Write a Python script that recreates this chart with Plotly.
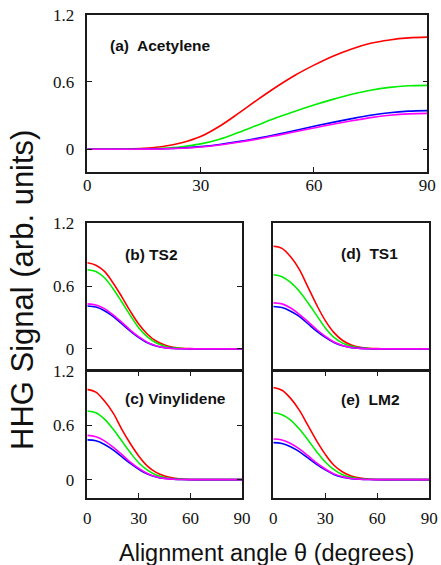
import plotly.graph_objects as go

W, H = 441, 565

# ---------------- data ----------------
theta = [0, 5, 10, 15, 20, 25, 30, 35, 40, 45, 50, 55, 60, 65, 70, 75, 80, 85, 90]

# (a) Acetylene
a_red     = [0, 0, 0.002, 0.008, 0.025, 0.058, 0.113, 0.205, 0.32, 0.44, 0.555, 0.66, 0.75, 0.83, 0.895, 0.945, 0.975, 0.993, 1.0]
a_green   = [0, 0, 0, 0.002, 0.008, 0.022, 0.048, 0.09, 0.15, 0.215, 0.28, 0.34, 0.395, 0.445, 0.49, 0.527, 0.552, 0.566, 0.57]
a_blue    = [0, 0, 0, 0.001, 0.004, 0.011, 0.024, 0.043, 0.068, 0.098, 0.132, 0.168, 0.205, 0.24, 0.273, 0.303, 0.326, 0.34, 0.345]
a_magenta = [0, 0, 0, 0.001, 0.003, 0.009, 0.02, 0.038, 0.062, 0.09, 0.122, 0.156, 0.19, 0.223, 0.254, 0.282, 0.303, 0.316, 0.32]

# (b) TS2
b_red     = [0.823, 0.80, 0.74, 0.63, 0.5, 0.36, 0.235, 0.14, 0.075, 0.037, 0.016, 0.006, 0.002, 0, 0, 0, 0, 0, 0]
b_green   = [0.756, 0.74, 0.68, 0.575, 0.45, 0.32, 0.2, 0.115, 0.058, 0.026, 0.01, 0.004, 0.001, 0, 0, 0, 0, 0, 0]
b_blue    = [0.41, 0.40, 0.365, 0.31, 0.24, 0.17, 0.108, 0.058, 0.028, 0.011, 0.004, 0.001, 0, 0, 0, 0, 0, 0, 0]
b_magenta = [0.43, 0.42, 0.385, 0.325, 0.255, 0.18, 0.115, 0.062, 0.03, 0.012, 0.004, 0.001, 0, 0, 0, 0, 0, 0, 0]

# (c) Vinylidene
c_red     = [1.0, 0.97, 0.87, 0.74, 0.56, 0.4, 0.26, 0.15, 0.08, 0.04, 0.018, 0.007, 0.002, 0, 0, 0, 0, 0, 0]
c_green   = [0.76, 0.74, 0.67, 0.56, 0.43, 0.3, 0.185, 0.105, 0.052, 0.023, 0.009, 0.003, 0.001, 0, 0, 0, 0, 0, 0]
c_blue    = [0.44, 0.43, 0.39, 0.33, 0.255, 0.18, 0.115, 0.062, 0.03, 0.012, 0.004, 0.001, 0, 0, 0, 0, 0, 0, 0]
c_magenta = [0.49, 0.475, 0.43, 0.36, 0.28, 0.195, 0.125, 0.068, 0.033, 0.014, 0.005, 0.001, 0, 0, 0, 0, 0, 0, 0]

# (d) TS1
d_red     = [0.98, 0.96, 0.88, 0.76, 0.59, 0.42, 0.27, 0.155, 0.08, 0.038, 0.016, 0.006, 0.002, 0, 0, 0, 0, 0, 0]
d_green   = [0.708, 0.69, 0.635, 0.55, 0.44, 0.32, 0.2, 0.11, 0.055, 0.025, 0.01, 0.004, 0.001, 0, 0, 0, 0, 0, 0]
d_blue    = [0.405, 0.395, 0.36, 0.31, 0.24, 0.17, 0.11, 0.06, 0.03, 0.012, 0.005, 0.001, 0, 0, 0, 0, 0, 0, 0]
d_magenta = [0.44, 0.43, 0.39, 0.33, 0.26, 0.185, 0.12, 0.065, 0.032, 0.013, 0.005, 0.001, 0, 0, 0, 0, 0, 0, 0]

# (e) LM2
e_red     = [1.02, 0.99, 0.9, 0.77, 0.6, 0.43, 0.28, 0.16, 0.085, 0.04, 0.018, 0.007, 0.002, 0, 0, 0, 0, 0, 0]
e_green   = [0.74, 0.72, 0.66, 0.56, 0.44, 0.31, 0.195, 0.11, 0.055, 0.025, 0.01, 0.004, 0.001, 0, 0, 0, 0, 0, 0]
e_blue    = [0.41, 0.40, 0.365, 0.31, 0.24, 0.17, 0.108, 0.058, 0.028, 0.011, 0.004, 0.001, 0, 0, 0, 0, 0, 0, 0]
e_magenta = [0.45, 0.44, 0.40, 0.34, 0.265, 0.185, 0.118, 0.064, 0.031, 0.013, 0.005, 0.001, 0, 0, 0, 0, 0, 0, 0]

panel_labels = ["(a)  Acetylene", "(b) TS2", "(c) Vinylidene", "(d)  TS1", "(e)  LM2"]
x_ticks = [0, 30, 60, 90]
x_ticktext = ["0", "30", "60", "90"]
y_ticks = [0, 0.6, 1.2]
y_ticktext = ["0", "0.6", "1.2"]
x_title = "Alignment angle θ (degrees)"
y_title = "HHG Signal (arb. units)"

colors = {"red": "#ff0000", "green": "#00ee00", "blue": "#0000ff", "magenta": "#ff00ff"}

# ---------------- layout geometry (pixels) ----------------
def px_dom_x(x0, x1):
    return [x0 / W, x1 / W]

def px_dom_y(y0, y1):
    return [1 - y1 / H, 1 - y0 / H]

panels = [
    ("a", [a_red, a_green, a_blue, a_magenta], (87.3, 427.3), (14.7, 171.7)),
    ("b", [b_red, b_green, b_blue, b_magenta], (87.3, 242.0), (223.3, 369.8)),
    ("c", [c_red, c_green, c_blue, c_magenta], (87.3, 242.0), (371.3, 497.7)),
    ("d", [d_red, d_green, d_blue, d_magenta], (273.3, 429.3), (223.3, 369.8)),
    ("e", [e_red, e_green, e_blue, e_magenta], (273.3, 429.3), (371.3, 497.7)),
]

fig = go.Figure()
serif = "Liberation Serif"
sans = "Liberation Sans"
line_col = "#1a1a1a"

layout = dict(
    width=W, height=H,
    margin=dict(l=0, r=0, t=0, b=0, autoexpand=False),
    paper_bgcolor="white", plot_bgcolor="white",
    showlegend=False,
)

for i, (name, series, xd, yd) in enumerate(panels):
    idx = "" if i == 0 else str(i + 1)
    xa, ya = "x" + idx, "y" + idx
    for s, cname in zip(series, ["red", "green", "blue", "magenta"]):
        fig.add_trace(go.Scatter(
            x=theta, y=s, mode="lines", xaxis=xa, yaxis=ya,
            line=dict(color=colors[cname], width=1.6, shape="spline", smoothing=1.0),
            hoverinfo="skip",
        ))
    show_xlab = name in ("a", "c", "e")
    show_xticks = name in ("a", "c", "e")
    show_ylab = name in ("a", "b", "c")
    xaxis = dict(
        domain=px_dom_x(*xd), range=[0, 90], anchor=ya, automargin=False,
        tickvals=x_ticks, ticktext=x_ticktext,
        showticklabels=show_xlab,
        ticks="inside" if show_xticks else "", ticklen=5, tickwidth=1, tickcolor=line_col,
        showline=True, linecolor=line_col, linewidth=1.5,
        mirror=("ticks" if name in ("c", "e") else True),
        showgrid=False, zeroline=False,
        tickfont=dict(family=serif, size=17, color="#111"),
        ticklabelstandoff=(-3 if name == "a" else 4),
    )
    yaxis = dict(
        domain=px_dom_y(*yd), range=[-0.2, 1.2], anchor=xa, automargin=False,
        tickvals=y_ticks, ticktext=y_ticktext,
        showticklabels=show_ylab,
        ticks="inside" if show_ylab else "", ticklen=5, tickwidth=1, tickcolor=line_col,
        showline=True, linecolor=line_col, linewidth=1.5,
        mirror=("ticks" if show_ylab else True),
        showgrid=False, zeroline=False,
        tickfont=dict(family=serif, size=17, color="#111"),
        ticklabelstandoff=8,
    )
    layout["xaxis" + idx] = xaxis
    layout["yaxis" + idx] = yaxis

fig.update_layout(**layout)

label_pos = [(108, 45), (122.7, 254.3), (122.7, 398.3), (339, 253.3), (339, 399.3)]
for text, (lx, ly) in zip(panel_labels, label_pos):
    fig.add_annotation(
        x=lx / W, y=1 - ly / H, xref="paper", yref="paper",
        text="<b>" + text + "</b>", showarrow=False,
        xanchor="left", yanchor="middle",
        font=dict(family=sans, size=15.5, color="#111"),
    )

fig.add_annotation(
    x=22 / W, y=1 - 290 / H, xref="paper", yref="paper",
    text=y_title, showarrow=False, textangle=-90,
    xanchor="center", yanchor="middle",
    font=dict(family=sans, size=31, color="#111"),
)
fig.add_annotation(
    x=266 / W, y=1 - 553 / H, xref="paper", yref="paper",
    text=x_title, showarrow=False,
    xanchor="center", yanchor="middle",
    font=dict(family=sans, size=23.5, color="#111"),
)

fig.write_html(
    "out.html",
    config={"displayModeBar": False},
    post_script="document.body.style.margin='0';document.body.style.padding='0';document.body.style.overflow='hidden';",
)
